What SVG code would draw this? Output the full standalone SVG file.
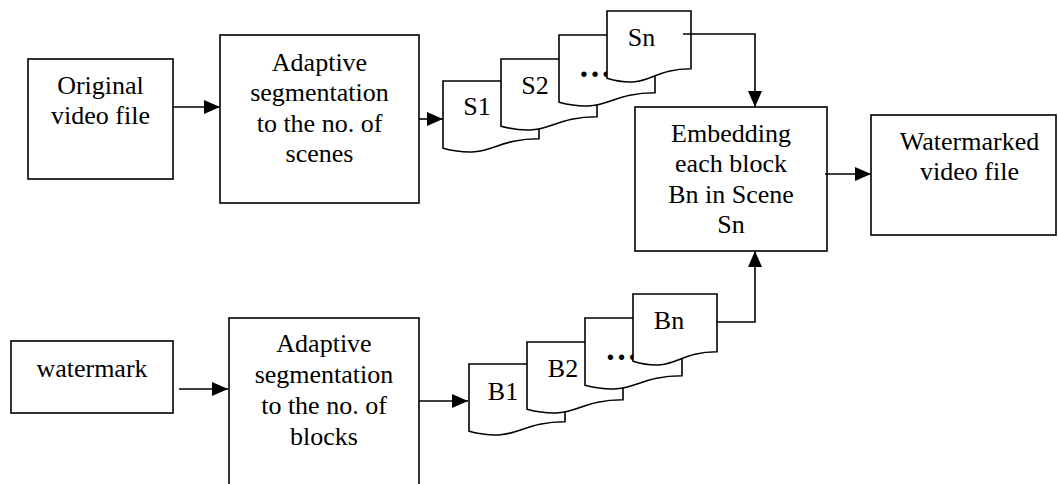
<svg xmlns="http://www.w3.org/2000/svg" width="1058" height="484" viewBox="0 0 1058 484">
<defs>
<style>
.box{fill:#fff;stroke:#000;stroke-width:1.6}
.doc{fill:#fff;stroke:#000;stroke-width:1.6}
.ln{fill:none;stroke:#000;stroke-width:1.6}
text{font-family:"Liberation Serif","Times New Roman",serif;font-size:26px;fill:#000;text-anchor:middle}
.dots{font-weight:bold;font-size:33px;text-anchor:start}
</style>
<marker id="ah" markerUnits="userSpaceOnUse" markerWidth="16" markerHeight="14" refX="16" refY="7" orient="auto">
<path d="M0,0 L16,7 L0,14 Z" fill="#000"/>
</marker>
</defs>
<rect width="1058" height="484" fill="#fff"/>
<g id="original">
<rect class="box" x="28" y="59" width="145" height="120"/>
<text x="100.5" y="94">Original</text>
<text x="100.5" y="124">video file</text>
</g>
<g id="adaptive1">
<rect class="box" x="220" y="35" width="199" height="168"/>
<text x="319.5" y="70.5">Adaptive</text>
<text x="319.5" y="101">segmentation</text>
<text x="319.5" y="131.5">to the no. of</text>
<text x="319.5" y="162">scenes</text>
</g>
<g id="scenes">
<g id="s1"><path class="doc" d="M443,81 H539 V138.74 C491,138.74 491,160.7 443,148.25 Z"/><text x="477" y="115">S1</text></g>
<g id="s2"><path class="doc" d="M501,59 H597 V116.74 C549,116.74 549,138.7 501,126.25 Z"/><text x="535" y="94">S2</text></g>
<g id="s3"><path class="doc" d="M559,35 H655 V92.74 C607,92.74 607,114.7 559,102.25 Z"/><text class="dots" x="578.5" y="77">…</text></g>
<g id="sn"><path class="doc" d="M607,11 H691 V68.74 C649,68.74 649,90.7 607,78.25 Z"/><text x="641.5" y="46">Sn</text></g>
</g>
<g id="embedding">
<rect class="box" x="635" y="107" width="192" height="144"/>
<text x="731" y="141.5">Embedding</text>
<text x="731" y="172">each block</text>
<text x="731" y="202.5">Bn in Scene</text>
<text x="731" y="233">Sn</text>
</g>
<g id="watermarked">
<rect class="box" x="871" y="115" width="185" height="120"/>
<text x="969.5" y="150">Watermarked</text>
<text x="969.5" y="180">video file</text>
</g>
<g id="watermark">
<rect class="box" x="11" y="341" width="162" height="72"/>
<text x="92" y="377">watermark</text>
</g>
<g id="adaptive2">
<rect class="box" x="229" y="318" width="190" height="172"/>
<text x="324" y="352">Adaptive</text>
<text x="324" y="382.5">segmentation</text>
<text x="324" y="413.5">to the no. of</text>
<text x="324" y="444.5">blocks</text>
</g>
<g id="blocks">
<g id="b1"><path class="doc" d="M469,364 H565 V421.74 C517,421.74 517,443.7 469,431.25 Z"/><text x="503" y="399.5">B1</text></g>
<g id="b2"><path class="doc" d="M527,342 H623 V399.74 C575,399.74 575,421.7 527,409.25 Z"/><text x="563" y="376.5">B2</text></g>
<g id="b3"><path class="doc" d="M585,318 H682 V375.74 C633.5,375.74 633.5,397.7 585,385.25 Z"/><text class="dots" x="605" y="360">…</text></g>
<g id="bn"><path class="doc" d="M633,294 H717 V351.74 C675,351.74 675,373.7 633,361.25 Z"/><text x="669" y="329">Bn</text></g>
</g>
<g id="connectors">
<path class="ln" d="M173,107 H220" marker-end="url(#ah)"/>
<path class="ln" d="M419,119 H443" marker-end="url(#ah)"/>
<path class="ln" d="M683,34 H755 V107" marker-end="url(#ah)"/>
<path class="ln" d="M825,174 H871" marker-end="url(#ah)"/>
<path class="ln" d="M179,389 H228" marker-end="url(#ah)"/>
<path class="ln" d="M419,401 H468" marker-end="url(#ah)"/>
<path class="ln" d="M717,322 H755 V251" marker-end="url(#ah)"/>
</g>
</svg>
